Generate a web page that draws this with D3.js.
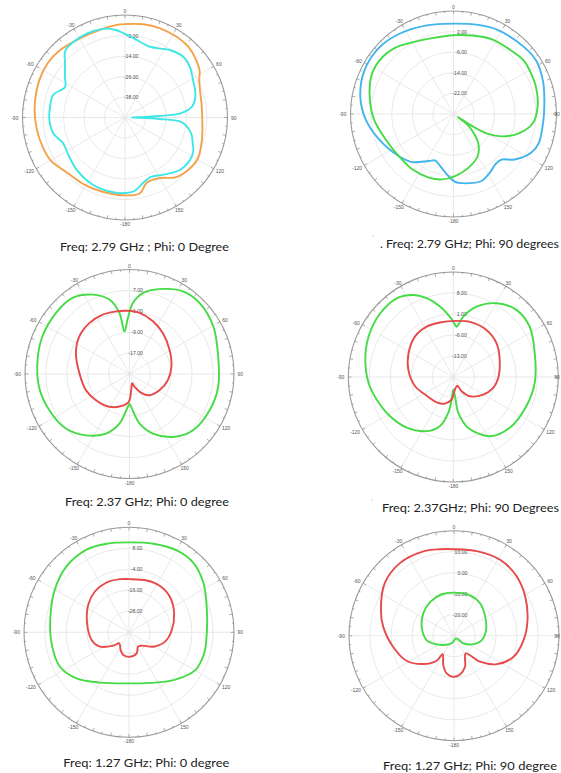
<!DOCTYPE html>
<html><head><meta charset="utf-8">
<script src="https://cdn.jsdelivr.net/npm/d3@7"></script>
<style>html,body{margin:0;padding:0;background:#fff;} svg{display:block;}</style>
</head><body>
<svg id="chart" width="561" height="773"></svg>
<script>
// ---------- shared axis labels ----------
const angleTicks  = [0, 30, 60, 90, 120, 150, 180, 210, 240, 270, 300, 330];
const angleLabels = ["0", "30", "60", "90", "120", "150", "-180", "-150", "-120", "-90", "-60", "-30"];

// ---------- Plot 1 : 2.79 GHz, Phi 0 ----------
const p1Domain = [-50, 10];
const p1Rings  = ["-2.00", "-14.00", "-26.00", "-38.00"];
const p1Orange = [[-180,-4.4],[-161.9,-4.6],[-148.8,-4.1],[-134,-3.3],[-119.5,0.3],[-105,1.5],[-90,2.7],[-80,3.5],[-66.4,4.7],[-55,5.3],[-43.9,4.8],[-29.6,3.3],[-15.9,3.3],[-5.1,4.4],[1,4.7],[11.1,5.6],[21.4,6.1],[32.6,6.1],[41.8,5.6],[50,3.8],[58,1.5],[63.2,-1.3],[70,-3.3],[80,-4.5],[90,-4.8],[100,-4],[110,-2.5],[119.8,-1],[129.7,-1.9],[140.1,-4.3],[150,-9.1],[161.6,-9.8],[168.8,-4.8]];
const p1Cyan   = [[-171,-5.7],[-154.8,-6.3],[-137.4,-8.3],[-122,-10.4],[-112.7,-10.8],[-102.4,-7.0],[-92,-5.7],[-82,-5.7],[-72.6,-5.9],[-63,-10.6],[-55.8,-7.5],[-47.8,-2.6],[-41.6,2.5],[-30,3.8],[-20,3.9],[-12,3.2],[-6,1.5],[-1,-0.7],[4,-2.5],[8.6,-4.1],[14,-5.5],[19.4,-6.1],[26,-5],[33.7,-2.5],[43.8,-0.7],[52,-1.8],[61,-4.5],[68.9,-6.0],[75,-7.5],[81,-10.4],[85.5,-17],[87.6,-30],[89.2,-42],[90,-46],[90.8,-42],[92.4,-30],[94.5,-17],[99.8,-12.3],[105,-9.5],[110.8,-7.6],[116,-5.5],[123,-4.5],[133.4,-5.5],[145.9,-9.6],[156.8,-12.1],[163.8,-10.5],[173,-6.5],[180,-5.8]];

// ---------- Plot 2 : 2.79 GHz, Phi 90 ----------
const p2Domain = [-30, 10];
const p2Rings  = ["2.00", "-6.00", "-14.00", "-22.00"];
const p2Blue   = [[-175.4,-5.8],[-165.8,-9.1],[-158.7,-10.6],[-152.3,-9.4],[-139.4,-5.4],[-127.8,-3.2],[-109.1,0.5],[-93.9,4.1],[-79.6,6.8],[-63.9,8.5],[-48.1,8.7],[-34.3,7.6],[-17.6,6.0],[0,5.1],[15.5,5.9],[28,6.9],[46.8,7.8],[57.6,8.2],[70,7],[81.3,5.7],[93.8,5.0],[108.7,5.0],[116.6,3.7],[126.7,-0.4],[133.6,-4.3],[140,-4.6],[148.3,-3.2],[157.3,-1.8],[170.5,-2.7],[178.6,-3.6]];
const p2Green  = [[-170,-4.2],[-158.8,-3.5],[-143.3,-3.2],[-127.8,-3.2],[-110.8,-1.9],[-94.3,0.9],[-80.6,2.9],[-65.9,5.1],[-54.2,5.5],[-40.9,4.2],[-29.9,2.1],[-15.8,0.6],[0,0.6],[13,1.3],[26.9,2.6],[42.3,3.3],[53,4.3],[60,4.1],[71.8,3.7],[85,2.8],[96.7,1.0],[106.5,-3.5],[115.1,-9.5],[120,-14.5],[122.5,-20],[124.5,-28],[127,-23.5],[131.1,-20.6],[139.6,-15.2],[150.3,-11.1],[164.6,-8.3],[178.5,-5.9]];

// ---------- Plot 3 : 2.37 GHz, Phi 0 ----------
const p3Domain = [-25, 15];
const p3Rings  = ["7.00", "-1.00", "-9.00", "-17.00"];
const p3Green  = [[-177,-12.4],[-168.5,-5.6],[-158.5,-0.5],[-144.6,3.8],[-130.6,7.1],[-114.2,8.7],[-98,10],[-81.3,10.6],[-66.7,11.3],[-50.4,11.6],[-36.8,11.4],[-24.9,8.5],[-15.1,4.5],[-9.4,-1.3],[-6.7,-8.6],[-1.7,-3.6],[2.7,2.2],[9.4,6.4],[21.5,10],[32.9,12.7],[44.7,13.2],[60.4,11.9],[78.9,9.6],[98.2,9.3],[114.2,8.7],[131.5,7.5],[145.3,4.3],[158.5,-0.5],[168.5,-5.6],[177,-12.4],[180,-13.5]];
const p3Red    = [[-178.6,-14.4],[-168,-12.6],[-148.5,-10.3],[-127.9,-8.7],[-110.3,-7.2],[-89,-5.8],[-68.8,-3],[-53.3,-1],[-38.3,-0.2],[-24.3,-0.1],[-12.1,-0.5],[-1.5,-0.8],[9.4,-1.3],[24,-2.9],[39.3,-4.8],[59,-7.1],[80,-8.7],[98.9,-10.1],[118,-11.9],[136.4,-13.8],[148,-16.5],[158.5,-19.7],[164,-21.3],[174,-18.8]];

// ---------- Plot 4 : 2.37 GHz, Phi 90 ----------
const p4Domain = [-20, 15];
const p4Rings  = ["8.00", "1.00", "-6.00", "-13.00"];
const p4Green  = [[-175.8,-12.5],[-172,-7.9],[-164.9,-3.1],[-153.9,0.1],[-137.5,2.9],[-121.8,4.8],[-106.5,6.6],[-94,8.3],[-78.9,9.9],[-64.4,11.3],[-48.9,12.3],[-35.7,12.3],[-25.9,10.4],[-18.6,7.7],[-10.7,3.9],[-1.6,-0.7],[3.8,-3.2],[5.5,-2.5],[9.4,0.4],[18.3,4.7],[30.4,8.5],[43.2,10.7],[56.5,10.5],[73.6,8.3],[94.2,7.2],[111.8,6.2],[132,5.3],[148.3,3.2],[163.6,-2.3],[172,-7.9],[175,-13.6],[180,-15.8]];
const p4Red    = [[-175.8,-12.5],[-162.6,-10.7],[-146.7,-9.9],[-121.9,-8.9],[-103.7,-6.9],[-80.7,-4.8],[-61.9,-3.1],[-43.3,-1.4],[-27.8,-1.0],[-13.7,-1.3],[1.7,-1.3],[16.8,-0.8],[35.2,-0.8],[51.9,-1.7],[69.6,-3.5],[90.8,-5.0],[105.4,-6.2],[120.5,-8.4],[139.2,-11.5],[149.8,-14.5],[155.2,-16.8],[172.5,-15.8]];

// ---------- Plot 5 : 1.27 GHz, Phi 0 ----------
const p5Domain = [-40, 20];
const p5Rings  = ["8.00", "-4.00", "-16.00", "-28.00"];
const p5Green  = [[-150,-6.8],[-131.3,-0.1],[-116.5,4.1],[-98.1,4.7],[-78.7,5.8],[-60.2,8.9],[-43.5,11.9],[-27.2,13.1],[-14.2,12.2],[0,11.4],[15.4,12.5],[30.3,14.2],[43,14.1],[56.6,11],[74,6.3],[89.3,4.5],[105.6,4.6],[119.7,3.6],[137.1,-2.7],[157.4,-8.7],[180,-10.8]];
const p5Red    = [[-166,-26.6],[-154.7,-28.8],[-138.7,-31.6],[-130.4,-28.2],[-116.3,-21.5],[-101.6,-18.2],[-77.8,-15.5],[-56,-11.9],[-39.9,-9.6],[-24.2,-8.8],[-9.6,-9.2],[0,-9.6],[18.9,-8.7],[33.8,-8.1],[49.5,-9.1],[67.1,-12],[86.9,-15.5],[104.5,-18.7],[120.5,-23.8],[136.5,-29.5],[147.9,-30.3],[160,-27.2],[177.6,-26]];

// ---------- Plot 6 : 1.27 GHz, Phi 90 ----------
const p6Domain = [-30, 20];
const p6Rings  = ["10.00", "0.00", "-10.00", "-20.00"];
const p6Red    = [[-179,-10.4],[-169,-11.7],[-160,-15.1],[-148.3,-19.7],[-145.3,-15.5],[-132.7,-10.1],[-117.8,-4.4],[-100.3,-0.5],[-82.7,4.0],[-70.6,6.9],[-52.8,11.4],[-36.7,13.1],[-20,12.7],[-9.2,11.7],[0,11.2],[15,11.7],[31.3,12.3],[46.7,11.1],[61.2,8.7],[77.9,5.8],[93.6,3.2],[109.5,0.1],[123.6,-5.5],[135,-12.5],[146.6,-19.9],[160.5,-14.3],[171.2,-11.3]];
const p6Green  = [[-163,-26.2],[-146.8,-25],[-116.6,-20.8],[-99,-16.8],[-74.4,-14],[-54,-11.9],[-34.5,-10.3],[-16.6,-9.4],[0,-9.5],[21.6,-9.3],[38.8,-10.2],[58.5,-12.6],[80,-14.5],[98.9,-16.6],[116,-20.6],[129.4,-24.3],[143,-28.4],[180,-27.6]];

// ---------- captions ----------
const captions = [
  "Freq: 2.79 GHz ; Phi: 0 Degree",
  ". Freq: 2.79 GHz; Phi: 90 degrees",
  "Freq: 2.37 GHz; Phi: 0 degree",
  "Freq: 2.37GHz; Phi: 90 Degrees",
  "Freq: 1.27 GHz; Phi: 0 degree",
  "Freq: 1.27 GHz; Phi: 90 degree"
];

// ---------- colours ----------
const C = {orange:"#F4A24A", cyan:"#3FE6E6", blue:"#41B5EC", green:"#45DB45", red:"#E64A4A"};

// ---------- layout ----------
const plots = [
  {cx:125, cy:117.5, R:102.5, domain:p1Domain, rings:p1Rings, series:[{d:p1Orange,c:C.orange},{d:p1Cyan,c:C.cyan}],
   cap:{t:captions[0], x:60, y:250.5, len:169}},
  {cx:453.5, cy:114, R:103, domain:p2Domain, rings:p2Rings, series:[{d:p2Blue,c:C.blue},{d:p2Green,c:C.green}],
   cap:{t:captions[1], x:380, y:247.5, len:179}, mark:{x:372, y:241}},
  {cx:129.5, cy:374, R:104.5, domain:p3Domain, rings:p3Rings, series:[{d:p3Green,c:C.green},{d:p3Red,c:C.red}],
   cap:{t:captions[2], x:65, y:505.7, len:164}},
  {cx:453.3, cy:377, R:105, domain:p4Domain, rings:p4Rings, series:[{d:p4Green,c:C.green},{d:p4Red,c:C.red}],
   cap:{t:captions[3], x:382, y:511.8, len:177}, mark:{x:371, y:505}},
  {cx:129, cy:632.3, R:105, domain:p5Domain, rings:p5Rings, series:[{d:p5Green,c:C.green},{d:p5Red,c:C.red}],
   cap:{t:captions[4], x:63.3, y:766.7, len:166}},
  {cx:454, cy:635.7, R:105, domain:p6Domain, rings:p6Rings, series:[{d:p6Red,c:C.red},{d:p6Green,c:C.green}],
   cap:{t:captions[5], x:383, y:769.8, len:174}}
];

const svg = d3.select("#chart");
svg.append("rect").attr("width",561).attr("height",773).attr("fill","#fff");
const rad = d => d * Math.PI / 180;

function drawPlot(p) {
  const g = svg.append("g").attr("transform", `translate(${p.cx},${p.cy})`);
  const r = d3.scaleLinear().domain(p.domain).range([0, p.R]);
  const step = (p.domain[1] - p.domain[0]) / 5;
  const ringVals = d3.range(1, 5).map(k => p.domain[0] + k * step);

  // grid rings
  g.selectAll("circle.ring").data(ringVals).join("circle")
    .attr("class", "ring").attr("r", d => r(d))
    .attr("fill", "none").attr("stroke", "#e3e3e3").attr("stroke-width", 0.8);
  // spokes
  g.selectAll("line.spoke").data(angleTicks).join("line")
    .attr("class", "spoke")
    .attr("x1", 0).attr("y1", 0)
    .attr("x2", d => p.R * Math.sin(rad(d)))
    .attr("y2", d => -p.R * Math.cos(rad(d)))
    .attr("stroke", "#e3e3e3").attr("stroke-width", 0.8);
  // outer circle
  g.append("circle").attr("r", p.R).attr("fill", "none")
    .attr("stroke", "#9a9a9a").attr("stroke-width", 1.1);
  // ticks every 5 degrees, inward
  g.selectAll("line.tick").data(d3.range(0, 360, 5)).join("line")
    .attr("class", "tick")
    .attr("x1", d => p.R * Math.sin(rad(d)))
    .attr("y1", d => -p.R * Math.cos(rad(d)))
    .attr("x2", d => (p.R - (d % 10 === 0 ? 3.2 : 1.8)) * Math.sin(rad(d)))
    .attr("y2", d => -(p.R - (d % 10 === 0 ? 3.2 : 1.8)) * Math.cos(rad(d)))
    .attr("stroke", "#8a8a8a").attr("stroke-width", 0.7);
  // angle labels (kept inside the page)
  g.selectAll("text.ang").data(angleTicks).join("text")
    .attr("class", "ang")
    .attr("x", (d, i) => {
      const x = (p.R + 3.5 + Math.abs(Math.sin(rad(d))) * angleLabels[i].length * 1.4) * Math.sin(rad(d));
      return Math.min(x, 561 - p.cx - 4);
    })
    .attr("y", (d, i) => -(p.R + 4) * Math.cos(rad(d)))
    .attr("text-anchor", "middle").attr("dominant-baseline", "central")
    .attr("font-family", "Liberation Sans, Arial, sans-serif").attr("font-size", 5)
    .attr("fill", "#555")
    .text((d, i) => angleLabels[i]);
  // ring value labels
  g.selectAll("text.rl").data(p.rings).join("text")
    .attr("class", "rl")
    .attr("x", 13.5)
    .attr("y", (d, i) => -r(p.domain[1] - (i + 1) * step))
    .attr("text-anchor", "end").attr("dominant-baseline", "central")
    .attr("font-family", "Liberation Sans, Arial, sans-serif").attr("font-size", 5.2)
    .attr("fill", "#555")
    .text(d => d);
  // curves
  const line = d3.lineRadial()
    .angle(d => rad(d[0]))
    .radius(d => r(d[1]))
    .curve(d3.curveCatmullRomClosed.alpha(0.5));
  p.series.forEach(s => {
    g.append("path").attr("d", line(s.d))
      .attr("fill", "none").attr("stroke", s.c)
      .attr("stroke-width", 1.9).attr("stroke-linejoin", "round");
  });
  // caption
  svg.append("text")
    .attr("x", p.cap.x).attr("y", p.cap.y)
    .attr("font-family", "Lato, 'Open Sans', sans-serif").attr("font-size", 12)
    .attr("fill", "#222")
    .attr("textLength", p.cap.len).attr("lengthAdjust", "spacingAndGlyphs")
    .text(p.cap.t);
  if (p.mark) {
    svg.append("text").attr("x", p.mark.x).attr("y", p.mark.y)
      .attr("font-family", "Lato, sans-serif").attr("font-size", 8)
      .attr("fill", "#bbb").text("'");
  }
}

plots.forEach(drawPlot);
</script>
</body></html>
